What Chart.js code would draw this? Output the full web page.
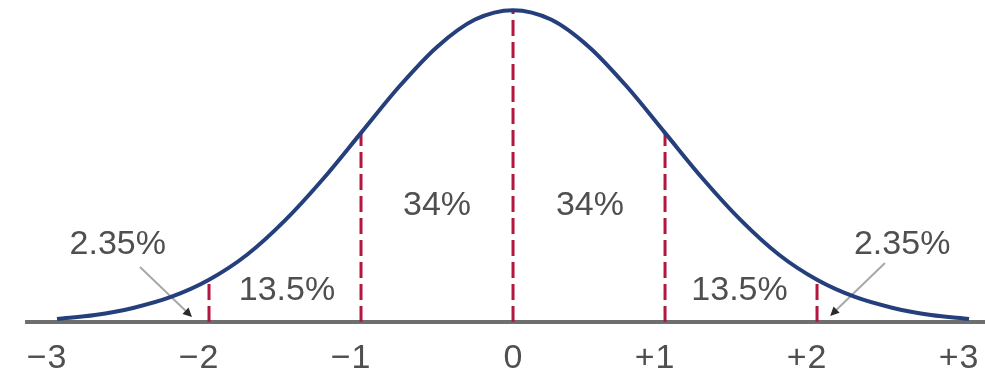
<!DOCTYPE html>
<html>
<head>
<meta charset="utf-8">
<script src="https://cdn.jsdelivr.net/npm/chart.js@4"></script>
<style>
    html, body { margin: 0; padding: 0; background: #fff; }
    #wrap { width: 985px; height: 379px; position: relative; }
</style>
</head>
<body>
<div id="wrap"><canvas id="bellChart"></canvas></div>
<script>
// Normale verdeling: hoogte van de curve per x (in standaarddeviaties)
const curveX = [-3, -2.75, -2.5, -2.25, -2, -1.75, -1.5, -1.25, -1, -0.75, -0.5, -0.25, 0,
                0.25, 0.5, 0.75, 1, 1.25, 1.5, 1.75, 2, 2.25, 2.5, 2.75, 3];
const curveY = [0.004, 0.009, 0.018, 0.032, 0.054, 0.086, 0.130, 0.183, 0.242, 0.301, 0.352, 0.387, 0.399,
                0.387, 0.352, 0.301, 0.242, 0.183, 0.130, 0.086, 0.054, 0.032, 0.018, 0.009, 0.004];

// Grenzen van de gebieden (gestippelde lijnen) en hun hoogte op de curve
const boundaryX = [-2, -1, 0, 1, 2];
const boundaryY = [0.054, 0.242, 0.399, 0.242, 0.054];

// As-labels
const tickValues = [-3, -2, -1, 0, 1, 2, 3];
const tickLabels = ['\u22123', '\u22122', '\u22121', '0', '+1', '+2', '+3'];

// Percentages per gebied
const areaLabels = ['2.35%', '13.5%', '34%', '34%', '13.5%', '2.35%'];

// Plaatsing van de teksten en pijltjes (in asco√∂rdinaten)
const areaLabelPos = [[-2.6, 0.0985], [-1.487, 0.0397], [-0.5, 0.1484], [0.506, 0.1484], [1.49, 0.0397], [2.56, 0.0985]];
const arrows = [
    { from: [-2.454, 0.0704], to: [-2.112, 0.0064] },
    { from: [2.447, 0.0755], to: [2.086, 0.0077] }
];

const textColor = '#4f4f4f';
const labelFont = '34px "Liberation Sans", Arial, sans-serif';

// Pijltjes onder de curve tekenen
const arrowPlugin = {
    id: 'arrowPlugin',
    beforeDatasetsDraw(chart) {
        const ctx = chart.ctx;
        const xs = chart.scales.x, ys = chart.scales.y;
        ctx.save();
        arrows.forEach(a => {
            const x1 = xs.getPixelForValue(a.from[0]), y1 = ys.getPixelForValue(a.from[1]);
            const x2 = xs.getPixelForValue(a.to[0]), y2 = ys.getPixelForValue(a.to[1]);
            const ang = Math.atan2(y2 - y1, x2 - x1);
            ctx.strokeStyle = '#a8a8a8';
            ctx.lineWidth = 2;
            ctx.beginPath();
            ctx.moveTo(x1, y1);
            ctx.lineTo(x2 - 6 * Math.cos(ang), y2 - 6 * Math.sin(ang));
            ctx.stroke();
            // pijlpunt
            ctx.fillStyle = '#2a2a2a';
            ctx.beginPath();
            ctx.moveTo(x2, y2);
            ctx.lineTo(x2 - 10 * Math.cos(ang - 0.45), y2 - 10 * Math.sin(ang - 0.45));
            ctx.lineTo(x2 - 10 * Math.cos(ang + 0.45), y2 - 10 * Math.sin(ang + 0.45));
            ctx.closePath();
            ctx.fill();
        });
        ctx.restore();
    }
};

// Percentages en as-labels
const labelPlugin = {
    id: 'labelPlugin',
    afterDatasetsDraw(chart) {
        const ctx = chart.ctx;
        const xs = chart.scales.x, ys = chart.scales.y;
        ctx.save();
        ctx.font = labelFont;
        ctx.fillStyle = textColor;
        ctx.textBaseline = 'middle';
        ctx.textAlign = 'center';
        areaLabels.forEach((txt, i) => {
            const p = areaLabelPos[i];
            ctx.fillText(txt, xs.getPixelForValue(p[0]), ys.getPixelForValue(p[1]));
        });

        // cijfer gecentreerd op de streep, teken ervoor
        const baseY = ys.getPixelForValue(0);
        tickValues.forEach((v, i) => {
            const label = tickLabels[i];
            const x = xs.getPixelForValue(v);
            const sign = label.length > 1 ? label[0] : '';
            const digit = label.length > 1 ? label.slice(1) : label;
            const dw = ctx.measureText(digit).width;
            ctx.textAlign = 'center';
            ctx.fillText(digit, x, baseY + 37);
            if (sign) {
                ctx.textAlign = 'right';
                ctx.fillText(sign, x - dw / 2 - 1, baseY + 37);
            }
        });
        ctx.restore();
    }
};

const datasets = [{
    label: 'curve',
    data: curveX.map((x, i) => ({ x: x, y: curveY[i] })),
    borderColor: '#253f7c',
    borderWidth: 4,
    pointRadius: 0,
    cubicInterpolationMode: 'monotone',
    clip: false
}];

boundaryX.forEach((x, i) => {
    datasets.push({
        label: 'grens ' + x,
        data: [{ x: x, y: 0 }, { x: x, y: boundaryY[i] }],
        borderColor: '#b3173f',
        borderWidth: 3,
        borderDash: [16, 6],
        pointRadius: 0,
        clip: false
    });
});

// horizontale as
datasets.push({
    label: 'as',
    data: [{ x: -3.21, y: 0 }, { x: 3.105, y: 0 }],
    borderColor: '#6e6e6e',
    borderWidth: 4,
    pointRadius: 0,
    clip: false
});

new Chart(document.getElementById('bellChart'), {
    type: 'line',
    data: { datasets: datasets },
    options: {
        responsive: true,
        maintainAspectRatio: false,
        animation: false,
        devicePixelRatio: 1,
        layout: { padding: { left: 0, right: 0, top: 0, bottom: 57 } },
        scales: {
            x: { type: 'linear', min: -3.375, max: 3.105, display: false },
            y: { min: 0, max: 0.412, display: false }
        },
        plugins: {
            legend: { display: false },
            tooltip: { enabled: false }
        }
    },
    plugins: [arrowPlugin, labelPlugin]
});
</script>
</body>
</html>
